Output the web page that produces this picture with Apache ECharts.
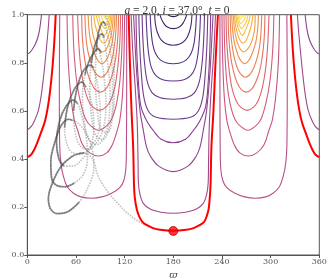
<!DOCTYPE html>
<html><head><meta charset="utf-8">
<script src="https://cdn.jsdelivr.net/npm/echarts@6/dist/echarts.min.js"></script>
<style>html,body{margin:0;padding:0;background:#fff}#c{width:329px;height:280px}</style>
</head><body><div id="c"></div>
<script>
// ---- tick labels ----
const xTicks = [0, 60, 120, 180, 240, 300, 360];
const yTicks = [0.0, 0.2, 0.4, 0.6, 0.8, 1.0];

// ---- central family of contours (top -> bottom), [omega, e] ----
const centerU1 = [[173.5,1],[176,0.995],[180,0.992],[184,0.995],[186.5,1]];
const centerU2 = [[163.5,1],[165,0.985],[168,0.965],[172,0.95],[180,0.942],[188,0.95],[192,0.965],[195,0.985],[196.5,1]];
const centerU3 = [[157,1],[158,0.96],[160.5,0.925],[165,0.895],[172,0.878],[180,0.873],[188,0.878],[195,0.895],[199.5,0.925],[202,0.96],[203,1]];
const centerU4 = [[151.5,1],[152.5,0.94],[154.5,0.88],[158,0.84],[164,0.812],[172,0.799],[180,0.796],[188,0.799],[196,0.812],[202,0.84],[205.5,0.88],[207.5,0.94],[208.5,1]];
const centerU5 = [[146.5,1],[147.5,0.92],[149.5,0.84],[153,0.78],[159,0.745],[168,0.728],[180,0.724],[192,0.728],[201,0.745],[207,0.78],[210.5,0.84],[212.5,0.92],[213.5,1]];
const centerU6 = [[141.5,1],[142.5,0.9],[144.5,0.8],[148,0.72],[154,0.675],[164,0.654],[180,0.648],[196,0.654],[206,0.675],[212,0.72],[215.5,0.8],[217.5,0.9],[218.5,1]];
const centerU7 = [[137.5,1],[138.5,0.88],[140.5,0.76],[143.5,0.66],[149,0.6],[158,0.574],[180,0.565],[202,0.574],[211,0.6],[216.5,0.66],[219.5,0.76],[221.5,0.88],[222.5,1]];
const centerU8 = [[134,1],[135,0.85],[137,0.72],[140,0.62],[147,0.56],[156,0.515],[165,0.482],[180,0.467],[195,0.482],[204,0.515],[213,0.56],[220,0.62],[223,0.72],[225,0.85],[226,1]];
const centerU9 = [[131,1],[132.5,0.9],[135,0.75],[139,0.6],[143,0.52],[147,0.45],[152,0.41],[162,0.37],[180,0.347],[198,0.37],[208,0.41],[213,0.45],[217,0.52],[221,0.6],[225,0.75],[227.5,0.9],[229,1]];
const centerU10 = [[128,1],[130,0.85],[133,0.7],[135.5,0.55],[136.5,0.4],[137,0.3],[139,0.25],[143,0.215],[152,0.19],[165,0.178],[180,0.174],[195,0.178],[208,0.19],[217,0.215],[221,0.25],[223,0.3],[223.5,0.4],[224.5,0.55],[227,0.7],[230,0.85],[232,1]];
const centerRed = [[125,1],[126.5,0.8],[128.5,0.6],[130.5,0.45],[131.5,0.3],[132.5,0.24],[135,0.19],[138,0.16],[142,0.138],[147,0.125],[155,0.112],[164,0.105],[180,0.101],[196,0.105],[205,0.112],[213,0.125],[218,0.138],[221,0.16],[223.5,0.19],[225,0.24],[226,0.3],[227,0.45],[229.5,0.6],[232,0.8],[235,1]];

// ---- right lobe (bottom -> top) ----
const rightL1 = [[237.5,1],[237.5,0.7],[237.8,0.45],[238.5,0.36],[241,0.31],[246,0.28],[256,0.257],[268,0.242],[281,0.236],[294,0.242],[303,0.257],[311,0.285],[315.7,0.33],[318.5,0.38],[320,0.45],[320.5,0.7],[320,1]];
const rightL2 = [[240,1],[241,0.8],[243,0.65],[246,0.56],[249,0.52],[255,0.46],[262,0.425],[272.5,0.412],[283,0.425],[292,0.46],[298,0.52],[302,0.56],[306,0.65],[309.5,0.8],[311,1]];
const rightL3 = [[242.5,1],[243.5,0.85],[246,0.72],[250,0.63],[256,0.565],[263,0.535],[272,0.519],[281,0.535],[288,0.565],[294,0.63],[299,0.72],[302.5,0.85],[304,1]];
const rightL4 = [[245,1],[246,0.88],[248.5,0.78],[252,0.7],[257,0.645],[263,0.615],[271,0.602],[279,0.615],[285,0.645],[290,0.7],[294,0.78],[296.5,0.88],[298,1]];
const rightL5 = [[247.5,1],[248.5,0.9],[251,0.82],[254.5,0.76],[259,0.715],[264,0.688],[270,0.678],[276,0.688],[281,0.715],[286,0.76],[289.5,0.82],[292,0.9],[293,1]];
const rightL6 = [[250,1],[251,0.92],[253,0.86],[256,0.81],[260,0.77],[264.5,0.748],[269,0.74],[273.5,0.748],[278,0.77],[282.5,0.81],[286,0.86],[288,0.92],[289,1]];
const rightL7 = [[252,1],[253,0.94],[255,0.89],[258,0.85],[262,0.815],[268,0.796],[274,0.815],[278.5,0.85],[282,0.89],[284,0.94],[285,1]];
const rightL8 = [[254,1],[255,0.95],[257,0.91],[260,0.875],[263,0.855],[267,0.845],[271,0.855],[275,0.875],[278.5,0.91],[280.5,0.95],[281,1]];
const rightL9 = [[255.5,1],[256.5,0.96],[258.5,0.93],[262,0.895],[266,0.882],[270,0.895],[274,0.93],[276.5,0.96],[278,1]];
const rightL10 = [[257,1],[258,0.97],[260.5,0.94],[265,0.914],[269.5,0.94],[273,0.97],[275,1]];
const rightL11 = [[258.5,1],[259.5,0.975],[261.5,0.955],[264,0.942],[267.5,0.955],[270.5,0.975],[272,1]];
const rightL12 = [[259.5,1],[260.5,0.982],[263,0.963],[266.5,0.975],[268.5,0.99],[269.5,1]];
const rightL13 = [[260.5,1],[261.5,0.99],[262.5,0.981],[265,0.99],[267,1]];
const rightL14 = [[261.5,1],[263,0.993],[264.5,1]];

// ---- left lobe (bottom -> top) ----
const leftL1 = [[122.5,1],[122.5,0.7],[122.2,0.45],[121.5,0.36],[119,0.31],[114,0.28],[104,0.257],[92,0.242],[79,0.236],[66,0.242],[57,0.257],[49,0.285],[44.3,0.33],[41.5,0.38],[40,0.45],[39.5,0.7],[40,1]];
const leftL2 = [[120,1],[119,0.8],[117,0.65],[114,0.56],[111,0.52],[105,0.46],[98,0.425],[87.5,0.412],[77,0.425],[68,0.46],[62,0.52],[58,0.56],[54,0.65],[50.5,0.8],[49,1]];
const leftL3 = [[117.5,1],[116.5,0.85],[114,0.72],[110,0.63],[104,0.565],[97,0.535],[88,0.519],[79,0.535],[72,0.565],[66,0.63],[61,0.72],[57.5,0.85],[56,1]];
const leftL4 = [[115,1],[114,0.88],[111.5,0.78],[108,0.7],[103,0.645],[97,0.615],[89,0.602],[81,0.615],[75,0.645],[70,0.7],[66,0.78],[63.5,0.88],[62,1]];
const leftL5 = [[112.5,1],[111.5,0.9],[109,0.82],[105.5,0.76],[101,0.715],[96,0.688],[90,0.678],[84,0.688],[79,0.715],[74,0.76],[70.5,0.82],[68,0.9],[67,1]];
const leftL6 = [[110,1],[109,0.92],[107,0.86],[104,0.81],[100,0.77],[95.5,0.748],[91,0.74],[86.5,0.748],[82,0.77],[77.5,0.81],[74,0.86],[72,0.92],[71,1]];
const leftL7 = [[108,1],[107,0.94],[105,0.89],[102,0.85],[98,0.815],[92,0.796],[86,0.815],[81.5,0.85],[78,0.89],[76,0.94],[75,1]];
const leftL8 = [[106,1],[105,0.95],[103,0.91],[100,0.875],[97,0.855],[93,0.845],[89,0.855],[85,0.875],[81.5,0.91],[79.5,0.95],[79,1]];
const leftL9 = [[104.5,1],[103.5,0.96],[101.5,0.93],[98,0.895],[94,0.882],[90,0.895],[86,0.93],[83.5,0.96],[82,1]];
const leftL10 = [[103,1],[102,0.97],[99.5,0.94],[95,0.914],[90.5,0.94],[87,0.97],[85,1]];
const leftL11 = [[101.5,1],[100.5,0.975],[98.5,0.955],[96,0.942],[92.5,0.955],[89.5,0.975],[88,1]];
const leftL12 = [[100.5,1],[99.5,0.982],[97,0.963],[93.5,0.975],[91.5,0.99],[90.5,1]];
const leftL13 = [[99.5,1],[98.5,0.99],[97.5,0.981],[95,0.99],[93,1]];
const leftL14 = [[98.5,1],[97,0.993],[95.5,1]];

// ---- outer contours near omega = 0 / 360 ----
const outerLeftRed = [[0,0.408],[4,0.415],[8,0.435],[12,0.465],[17,0.51],[22,0.56],[26,0.63],[29,0.71],[31.5,0.8],[33.5,0.9],[35,1]];
const outerRightRed = [[360,0.408],[356,0.415],[352,0.435],[348,0.465],[343,0.51],[338,0.56],[334,0.63],[331,0.71],[328.5,0.8],[326.5,0.9],[325,1]];
const outerLeftMid = [[0,0.52],[5,0.535],[9,0.56],[13.5,0.6],[17,0.66],[20,0.74],[23,0.84],[25.5,0.93],[27,1]];
const outerRightMid = [[360,0.52],[355,0.535],[351,0.56],[346.5,0.6],[343,0.66],[340,0.74],[337,0.84],[334.5,0.93],[333,1]];
const outerLeftHigh = [[0,0.836],[3,0.842],[6,0.855],[9.5,0.875],[12.5,0.9],[15,0.935],[17.5,1]];
const outerRightHigh = [[360,0.836],[357,0.842],[354,0.855],[350.5,0.875],[347.5,0.9],[345,0.935],[342.5,1]];

// ---- trajectory (omega, e) ----
const trajTail = [[180,0.1],[165,0.103],[151,0.116],[140,0.135],[130,0.156],[120,0.185],[110,0.22],[100,0.26],[92,0.3],[86,0.34],[83,0.38],[78,0.41],[70,0.425],[65,0.423]];
const trajLoop1 = [[65,0.423],[55,0.41],[42,0.37],[31,0.3],[26,0.235],[29,0.19],[38,0.172],[50,0.18],[64,0.22],[76,0.29],[82,0.36],[80,0.44],[72,0.51],[60,0.555],[50.6,0.565]];
const trajLoop2 = [[50.6,0.565],[42,0.54],[34,0.47],[29,0.39],[30,0.32],[36,0.29],[46,0.284],[58,0.3],[69,0.335],[74,0.4],[73,0.48],[67,0.58],[62,0.63],[56.7,0.645]];
const trajLoop3 = [[56.7,0.645],[48,0.62],[40,0.56],[36,0.47],[39,0.4],[45,0.37],[56,0.37],[68,0.4],[78,0.45],[82,0.53],[80,0.62],[74,0.69],[67,0.72]];
const trajLoop4 = [[67,0.72],[58,0.69],[50,0.62],[46,0.53],[49,0.46],[56,0.425],[67,0.42],[78,0.45],[87,0.5],[90,0.58],[88,0.68],[83,0.76],[77.3,0.79]];
const trajLoop5 = [[77.3,0.79],[68,0.76],[61,0.69],[57,0.6],[59,0.51],[65,0.455],[75,0.44],[86,0.47],[94,0.53],[97,0.62],[95,0.73],[91,0.82],[87.5,0.858]];
const trajLoop6 = [[87.5,0.858],[78,0.82],[71,0.75],[68,0.66],[70,0.56],[76,0.48],[86,0.46],[96,0.5],[101,0.58],[102,0.68],[99,0.8],[95,0.89],[91.7,0.92]];
const trajLoop7 = [[91.7,0.92],[84,0.88],[79,0.8],[77,0.7],[79,0.58],[84,0.5],[93,0.48],[101,0.53],[105,0.62],[105,0.74],[102,0.86],[97,0.94],[93.7,0.97]];
const trajLoop8 = [[93.7,0.97],[88,0.93],[85,0.85],[84,0.74],[86,0.61],[91,0.52],[99,0.51],[105,0.57],[107,0.67],[107,0.8],[104,0.91],[99,0.97],[96,1.0]];
const trajDark = [
  [[70,0.425],[65,0.423],[55,0.41],[42,0.37],[31,0.3],[26,0.235],[29,0.19],[38,0.172],[50,0.18],[64,0.22]],
  [[56,0.56],[50.6,0.565],[42,0.54],[34,0.47],[29,0.39],[30,0.32],[36,0.29],[46,0.284],[58,0.3]],
  [[62,0.63],[56.7,0.645],[48,0.62],[40,0.56],[36,0.47],[39,0.4],[45,0.37]],
  [[72,0.70],[67,0.72],[58,0.69],[50,0.62],[46,0.53]],
  [[82,0.78],[77.3,0.79],[68,0.76],[61,0.69],[57,0.6]],
  [[91,0.84],[87.5,0.858],[78,0.82],[71,0.75]],
  [[95,0.905],[91.7,0.92],[84,0.88],[79,0.8]],
  [[97,0.955],[93.7,0.97],[88,0.93],[85,0.85]]
];

// ---- marker ----
const startPoint = [[180, 0.1]];

// ---- styles ----
const centerSet = [centerU1,centerU2,centerU3,centerU4,centerU5,centerU6,centerU7,centerU8,centerU9,centerU10];
const centerColors = ['#2b1f4a','#3a2566','#472a76','#543081','#603488','#6c388c','#783c8e','#85408e','#92448c','#a04889'];
const rightSet = [rightL1,rightL2,rightL3,rightL4,rightL5,rightL6,rightL7,rightL8,rightL9,rightL10,rightL11,rightL12,rightL13,rightL14];
const leftSet = [leftL1,leftL2,leftL3,leftL4,leftL5,leftL6,leftL7,leftL8,leftL9,leftL10,leftL11,leftL12,leftL13,leftL14];
const lobeColors = ['#b94f88','#c75481','#d35b78','#de666b','#e6725f','#ec8053','#f18e4a','#f49d43','#f6ad3e','#f8bd3b','#f9cb3d','#fad845','#fbe250','#fcec60'];
const outerSet = [outerLeftMid, outerRightMid, outerLeftHigh, outerRightHigh];
const outerColors = ['#9c4a8b','#9c4a8b','#8a438e','#8a438e'];
const redSet = [centerRed, outerLeftRed, outerRightRed];

const series = [];
function addLine(data, color, width, z, extra) {
  series.push(Object.assign({
    type: 'line', data: data, smooth: 0.35, showSymbol: false, symbol: 'none',
    silent: true, animation: false, clip: true, z: z,
    lineStyle: { color: color, width: width }
  }, extra || {}));
}
centerSet.forEach((c, i) => addLine(c, centerColors[i], 1.1, 2));
rightSet.forEach((c, i) => addLine(c, lobeColors[i], 1.1, 2));
leftSet.forEach((c, i) => addLine(c, lobeColors[i], 1.1, 2));
outerSet.forEach((c, i) => addLine(c, outerColors[i], 1.1, 2));
[trajTail, trajLoop1, trajLoop2, trajLoop3, trajLoop4, trajLoop5, trajLoop6, trajLoop7, trajLoop8].forEach(c =>
  addLine(c, 'rgba(130,130,130,0.5)', 1.6, 3, { lineStyle: { color: 'rgba(130,130,130,0.5)', width: 1.6, type: [1.5, 1.2] } }));
trajDark.forEach(c => addLine(c, 'rgba(70,70,70,0.6)', 1.7, 4));
redSet.forEach(c => addLine(c, '#ff0000', 2, 5));
series.push({
  type: 'scatter', data: startPoint, symbolSize: 9, silent: true, animation: false, z: 10,
  itemStyle: { color: '#ff0000', borderColor: '#7a0000', borderWidth: 0.8 }
});

const chart = echarts.init(document.getElementById('c'), null, { renderer: 'canvas' });
const serif = '"DejaVu Serif", "Liberation Serif", serif';
const titleFont = '"Liberation Serif", "DejaVu Serif", serif';
chart.setOption({
  backgroundColor: '#fff',
  animation: false,
  title: {
    text: '{i|a} = 2.0, {i|i} = 37.0°, {i|t} = 0',
    left: 172, top: 0, textAlign: 'center',
    textStyle: {
      fontFamily: titleFont, fontSize: 11.5, fontWeight: 'normal', color: '#333',
      rich: { i: { fontFamily: titleFont, fontStyle: 'italic', fontSize: 11.5, color: '#333' } }
    }
  },
  grid: { left: 27.3, right: 9.7, top: 14.7, bottom: 25, containLabel: false, outerBoundsMode: 'none', show: true, borderColor: '#555', borderWidth: 1, backgroundColor: 'transparent' },
  xAxis: {
    type: 'value', min: xTicks[0], max: xTicks[xTicks.length - 1], interval: 60,
    name: 'ϖ', nameLocation: 'middle', nameGap: 13,
    nameTextStyle: { fontFamily: serif, fontStyle: 'italic', fontSize: 10, color: '#444' },
    axisLine: { show: true, lineStyle: { color: '#555', width: 1 } },
    axisTick: { show: true, length: 3, lineStyle: { color: '#555' } },
    axisLabel: { fontFamily: serif, fontSize: 8, color: '#555', margin: 3 },
    splitLine: { show: false }
  },
  yAxis: {
    type: 'value', min: yTicks[0], max: yTicks[yTicks.length - 1], interval: 0.2,
    name: 'e', nameLocation: 'middle', nameGap: 19, nameRotate: 90,
    nameTextStyle: { fontFamily: serif, fontStyle: 'italic', fontSize: 9, color: '#444' },
    axisLine: { show: true, lineStyle: { color: '#555', width: 1 } },
    axisTick: { show: true, length: 3, lineStyle: { color: '#555' } },
    axisLabel: { fontFamily: serif, fontSize: 8, color: '#555', margin: 3, formatter: v => v.toFixed(1) },
    splitLine: { show: false }
  },
  series: series
});
</script></body></html>
